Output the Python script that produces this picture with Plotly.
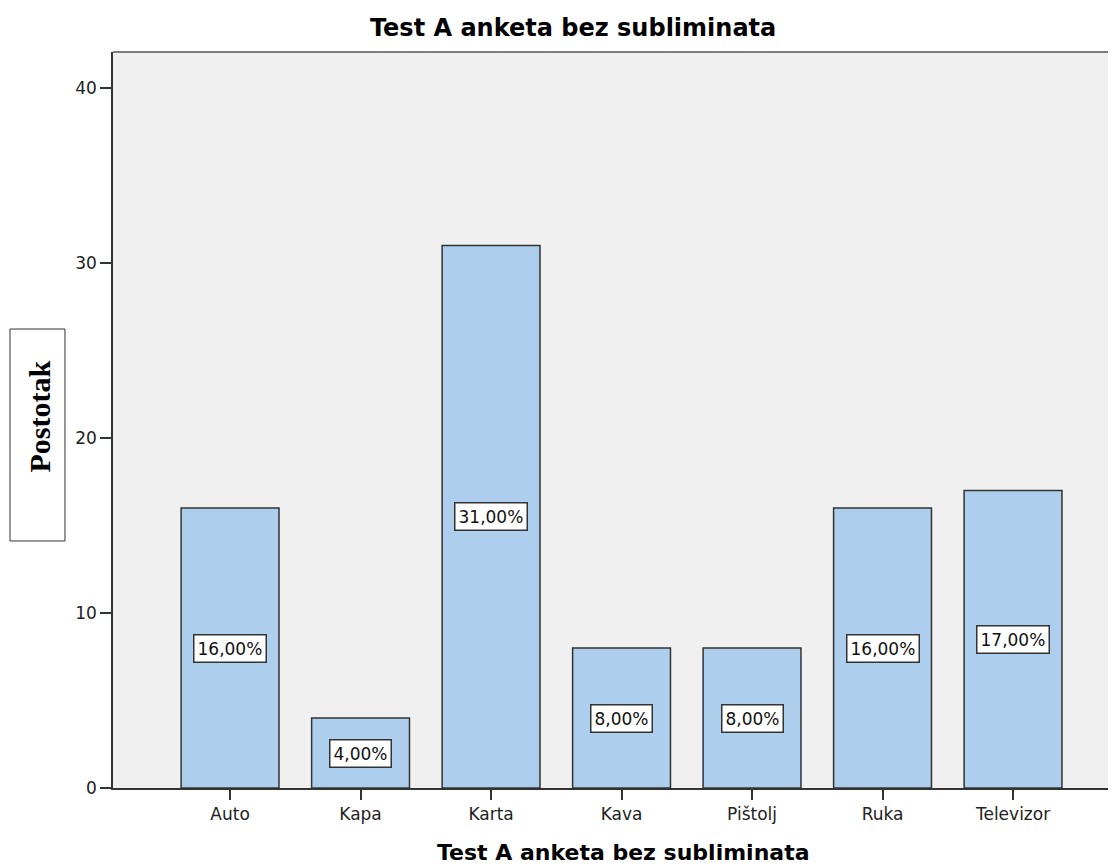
"""
Bar chart: Test A anketa bez subliminata
"""
import plotly.graph_objects as go

categories = ['Auto', 'Kapa', 'Karta', 'Kava', 'Pištolj', 'Ruka', 'Televizor']
percentages = [16, 4, 31, 8, 8, 16, 17]
value_labels = ['16,00%', '4,00%', '31,00%', '8,00%', '8,00%', '16,00%', '17,00%']
y_ticks = [0, 10, 20, 30, 40]

SANS = 'DejaVu Sans, Verdana, sans-serif'

fig = go.Figure()

fig.add_trace(go.Bar(
    x=categories,
    y=percentages,
    width=0.75,
    marker=dict(color='#adcfed', line=dict(color='#333333', width=1.5)),
    hoverinfo='x+y',
))

# value boxes in the middle of each bar
for cat, val, lab in zip(categories, percentages, value_labels):
    fig.add_annotation(
        x=cat, y=val / 2, text=lab, showarrow=False,
        font=dict(family=SANS, size=17, color='#111111'),
        bgcolor='white', bordercolor='#333333', borderwidth=1.5, borderpad=3,
    )

# boxed y axis label (box drawn separately, text sits a bit above centre)
fig.add_shape(type='rect', xref='paper', yref='paper',
              x0=-0.1027, x1=-0.0479, y0=0.3356, y1=0.6236,
              line=dict(color='#333333', width=1), fillcolor='white')
fig.add_annotation(
    xref='paper', yref='paper', x=-0.0733, y=0.5054,
    text='<b>Postotak</b>', textangle=-90, showarrow=False,
    font=dict(family='Liberation Serif, Times New Roman', size=30, color='black'),
    xanchor='center', yanchor='middle',
)

# x axis title
fig.add_annotation(
    xref='paper', yref='paper', x=0.5085, y=-0.0883,
    text='<b>Test A anketa bez subliminata</b>', showarrow=False,
    font=dict(family=SANS, size=22, color='black'),
    xanchor='center', yanchor='middle',
)

# top frame line
fig.add_shape(type='line', xref='paper', yref='paper', x0=0, x1=1, y0=1, y1=1,
              line=dict(color='#555555', width=1.5))

fig.update_layout(
    width=1108, height=858,
    margin=dict(l=105, r=0, t=44, b=78),
    paper_bgcolor='white',
    plot_bgcolor='#f0f0f0',
    showlegend=False,
    title=dict(
        text='<b>Test A anketa bez subliminata</b>',
        x=0.51, xref='container', xanchor='center',
        y=0.9767, yanchor='middle',
        font=dict(family=SANS, size=24, color='black'),
    ),
    xaxis=dict(
        range=[-0.897, 6.789],
        showgrid=False, zeroline=False,
        showline=True, linecolor='#333333', linewidth=1.5,
        ticks='outside', ticklen=10, tickcolor='#333333', tickwidth=1.5,
        tickfont=dict(family=SANS, size=17, color='#222222'),
    ),
    yaxis=dict(
        range=[0, 42.06],
        tickvals=y_ticks,
        showgrid=False, zeroline=False,
        showline=True, linecolor='#333333', linewidth=1.5,
        ticks='outside', ticklen=11, tickcolor='#333333', tickwidth=1.5,
        tickfont=dict(family=SANS, size=17, color='#222222'),
    ),
)

fig.write_html("out.html")
